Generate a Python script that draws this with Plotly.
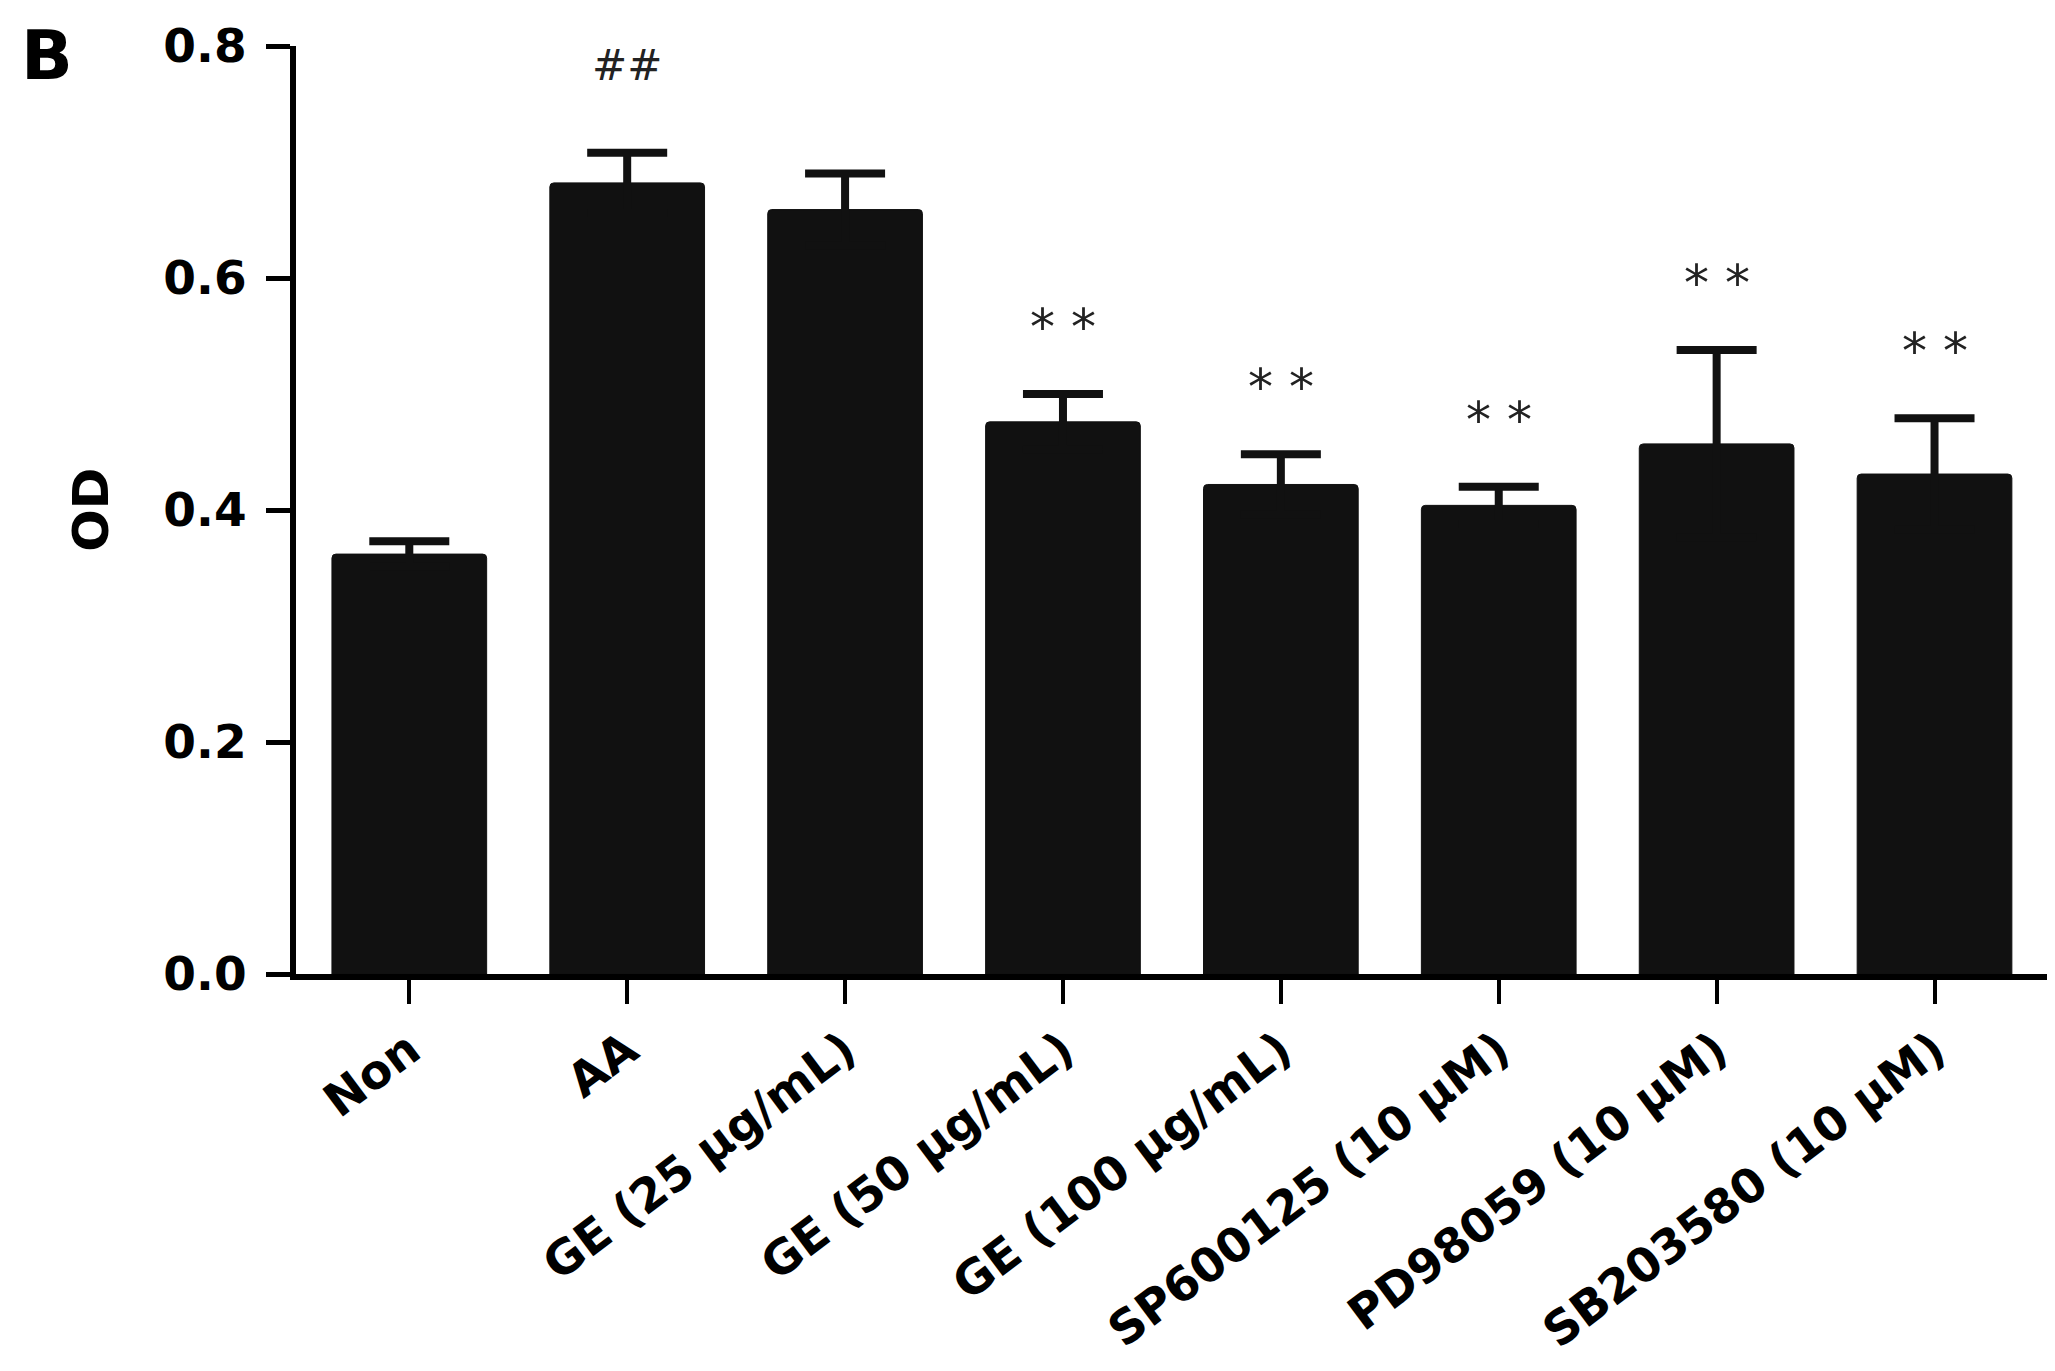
import plotly.graph_objects as go

categories = ["Non", "AA", "GE (25 μg/mL)", "GE (50 μg/mL)", "GE (100 μg/mL)",
              "SP600125 (10 μM)", "PD98059 (10 μM)", "SB203580 (10 μM)"]
means = [0.362, 0.682, 0.659, 0.476, 0.422, 0.404, 0.457, 0.431]
errors = [0.011, 0.026, 0.031, 0.024, 0.026, 0.016, 0.081, 0.048]
marks = ["", "##", "", "* *", "* *", "* *", "* *", "* *"]
y_ticks = [0.0, 0.2, 0.4, 0.6, 0.8]
y_tick_labels = ["0.0", "0.2", "0.4", "0.6", "0.8"]

FONT = "DejaVu Sans, Liberation Sans, Arial, sans-serif"
MARK_FONT = "DejaVu Sans, Liberation Sans, sans-serif"

fig = go.Figure()
fig.add_trace(go.Bar(
    x=categories, y=means,
    marker=dict(color="#111111", line=dict(color="#111111", width=1), cornerradius=4),
    error_y=dict(type="data", symmetric=True, array=errors,
                 color="#111111", thickness=8, width=40),
    showlegend=False,
))

for cat, m, e, t in zip(categories, means, errors, marks):
    if not t:
        continue
    gap = 0.075 if t == "##" else 0.058
    fig.add_annotation(
        x=cat, y=m + e + gap, xref="x", yref="y", text=t, showarrow=False,
        font=dict(family=MARK_FONT, size=50 if t != "##" else 42, color="#222222"),
        xanchor="center", yanchor="middle",
    )

fig.add_annotation(x=-0.117, y=0.5, xref="paper", yref="paper", text="OD", textangle=-90,
                   showarrow=False, xanchor="center", yanchor="middle",
                   font=dict(family=FONT, size=50, color="black", weight="bold"))
fig.add_annotation(x=-0.142, y=0.99, xref="paper", yref="paper", text="B",
                   showarrow=False, xanchor="center", yanchor="middle",
                   font=dict(family=FONT, size=68, color="black", weight="bold"))

fig.update_layout(
    width=2055, height=1371,
    margin=dict(l=288, r=13, t=38, b=405, autoexpand=False),
    plot_bgcolor="white", paper_bgcolor="white",
    bargap=0.29,
)
fig.update_xaxes(
    range=[-0.52, 7.53], showline=True, linecolor="black", linewidth=6,
    ticks="outside", ticklen=24, tickwidth=4, tickcolor="black",
    tickangle=-37, showgrid=False, zeroline=False, automargin=False,
    tickfont=dict(family=FONT, size=47, color="black", weight="bold"),
)
fig.update_yaxes(
    range=[0, 0.8], showline=True, linecolor="black", linewidth=6,
    ticks="outside", ticklen=24, tickwidth=5, tickcolor="black",
    tickvals=y_ticks, ticktext=y_tick_labels, showgrid=False, zeroline=False,
    automargin=False,
    tickfont=dict(family=FONT, size=47, color="black", weight="bold"),
    ticklabelstandoff=10,
)

fig.write_html("out.html")
